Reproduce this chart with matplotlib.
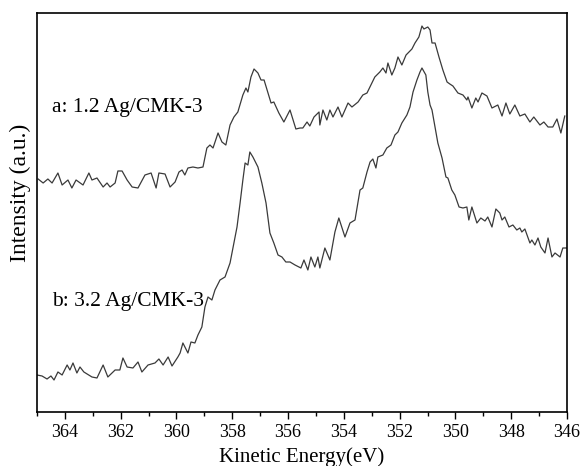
import matplotlib.pyplot as plt
from matplotlib.ticker import MultipleLocator

plt.rcParams['font.family'] = ['Liberation Serif', 'DejaVu Serif']

# curve a: 1.2 Ag/CMK-3 (kinetic energy eV, intensity a.u.)
energy_a = [364.96, 364.78, 364.61, 364.46, 364.25, 364.10, 363.89, 363.75, 363.60, 363.35,
            363.14, 363.03, 362.85, 362.63, 362.49, 362.38, 362.20, 362.10, 361.95, 361.77,
            361.59, 361.38, 361.13, 360.91, 360.73, 360.63, 360.41, 360.23, 360.05, 359.91,
            359.80, 359.70, 359.59, 359.41, 359.23, 359.05, 358.91, 358.80, 358.69, 358.51,
            358.37, 358.23, 358.08, 357.94, 357.80, 357.62, 357.51, 357.44, 357.33, 357.22,
            357.08, 356.97, 356.86, 356.72, 356.61, 356.51, 356.33, 356.15, 355.93, 355.72,
            355.57, 355.47, 355.32, 355.22, 355.07, 354.89, 354.86, 354.75, 354.61, 354.50,
            354.39, 354.21, 354.07, 353.85, 353.71, 353.49, 353.32, 353.17, 353.03, 352.89,
            352.71, 352.60, 352.49, 352.42, 352.28, 352.17, 352.06, 351.92, 351.77, 351.56,
            351.45, 351.31, 351.20, 351.13, 350.99, 350.91, 350.84, 350.73, 350.59, 350.45,
            350.30, 350.20, 350.09, 349.91, 349.73, 349.59, 349.55, 349.41, 349.27, 349.19,
            349.05, 348.87, 348.69, 348.48, 348.33, 348.19, 348.05, 347.87, 347.69, 347.51,
            347.33, 347.19, 346.97, 346.83, 346.68, 346.51, 346.36, 346.22, 346.08]
intensity_a = [233, 229, 233, 229, 239, 227, 232, 224, 232, 227,
               239, 232, 234, 225, 229, 225, 229, 241, 241, 232,
               225, 224, 237, 239, 224, 239, 238, 225, 230, 240,
               242, 237, 244, 245, 244, 245, 264, 267, 264, 279,
               270, 267, 287, 295, 300, 317, 324, 320, 335, 343,
               339, 332, 332, 319, 309, 310, 299, 290, 302, 283,
               284, 284, 290, 286, 295, 300, 287, 302, 292, 302,
               295, 305, 295, 309, 305, 310, 317, 319, 327, 335,
               340, 344, 339, 349, 337, 344, 355, 347, 357, 363,
               369, 375, 386, 383, 385, 382, 369, 369, 355, 342,
               330, 328, 326, 319, 317, 312, 315, 304, 314, 310,
               319, 316, 304, 307, 296, 309, 298, 307, 296, 298,
               290, 295, 287, 290, 285, 285, 293, 279, 296]

# curve b: 3.2 Ag/CMK-3
energy_b = [365.00, 364.82, 364.64, 364.50, 364.39, 364.25, 364.10, 363.92, 363.82, 363.71,
            363.57, 363.46, 363.32, 363.03, 362.85, 362.63, 362.46, 362.20, 362.03, 361.92,
            361.77, 361.56, 361.38, 361.24, 361.02, 360.77, 360.63, 360.48, 360.30, 360.16,
            359.95, 359.87, 359.77, 359.59, 359.48, 359.34, 359.23, 359.09, 358.98, 358.87,
            358.73, 358.62, 358.44, 358.26, 358.08, 357.97, 357.83, 357.72, 357.62, 357.54,
            357.44, 357.37, 357.26, 357.08, 356.94, 356.79, 356.65, 356.51, 356.36, 356.22,
            356.08, 355.93, 355.75, 355.54, 355.43, 355.29, 355.18, 355.04, 354.93, 354.86,
            354.68, 354.50, 354.32, 354.18, 353.96, 353.78, 353.60, 353.42, 353.32, 353.17,
            353.06, 352.96, 352.85, 352.78, 352.60, 352.46, 352.31, 352.17, 352.06, 351.92,
            351.74, 351.63, 351.52, 351.38, 351.27, 351.20, 351.06, 350.99, 350.91, 350.84,
            350.73, 350.63, 350.48, 350.34, 350.27, 350.13, 350.02, 349.87, 349.73, 349.59,
            349.52, 349.41, 349.23, 349.09, 348.94, 348.84, 348.69, 348.55, 348.41, 348.33,
            348.23, 348.08, 347.94, 347.80, 347.69, 347.62, 347.51, 347.33, 347.26, 347.15,
            347.04, 346.94, 346.79, 346.68, 346.54, 346.43, 346.25, 346.15, 346.00]
intensity_b = [37, 36, 33, 36, 32, 40, 37, 47, 42, 49,
               39, 45, 40, 35, 34, 47, 35, 42, 42, 54,
               45, 44, 50, 40, 47, 49, 53, 47, 55, 46,
               55, 59, 69, 59, 70, 69, 77, 85, 105, 115,
               112, 122, 132, 135, 149, 165, 185, 209, 232, 249,
               247, 260, 255, 245, 229, 209, 179, 169, 157, 155,
               150, 150, 147, 144, 152, 142, 155, 145, 155, 144,
               164, 152, 180, 194, 175, 189, 192, 222, 224, 240,
               250, 253, 244, 255, 257, 264, 267, 277, 280, 289,
               297, 305, 320, 332, 340, 344, 337, 320, 307, 302,
               285, 269, 254, 235, 234, 222, 217, 205, 204, 205,
               192, 205, 189, 194, 191, 195, 185, 203, 199, 192,
               195, 185, 187, 182, 184, 180, 183, 169, 172, 167,
               174, 165, 159, 174, 155, 159, 155, 164, 164]

labels = ['a: 1.2 Ag/CMK-3', 'b: 3.2 Ag/CMK-3']

fig = plt.figure(figsize=(5.8, 4.66), dpi=100)
ax = fig.add_axes([0.0638, 0.1159, 0.9138, 0.8562])

ax.plot(energy_a, intensity_a, color='#3a3a3a', lw=0.9)
ax.plot(energy_b, intensity_b, color='#3a3a3a', lw=0.9)

ax.text(364.45, 304, labels[0], fontsize=15.5, va='center', ha='left')
ax.text(364.45, 110, labels[1], fontsize=15.5, va='center', ha='left')

ax.set_xlim(365, 346)
ax.set_ylim(0, 399)
ax.xaxis.set_major_locator(MultipleLocator(2))
ax.xaxis.set_minor_locator(MultipleLocator(1))
ax.tick_params(axis='x', which='major', direction='out', length=5, width=1, labelsize=13, pad=4)
ax.tick_params(axis='x', which='minor', direction='out', length=3, width=1)
ax.set_yticks([])
for s in ax.spines.values():
    s.set_linewidth(1.2)

ax.set_xlabel('Kinetic Energy(eV)', fontsize=15, labelpad=4)
ax.set_ylabel('Intensity (a.u.)', fontsize=17)
ax.yaxis.set_label_coords(-0.012, 0.55)

fig.savefig('out.png', dpi=100)
